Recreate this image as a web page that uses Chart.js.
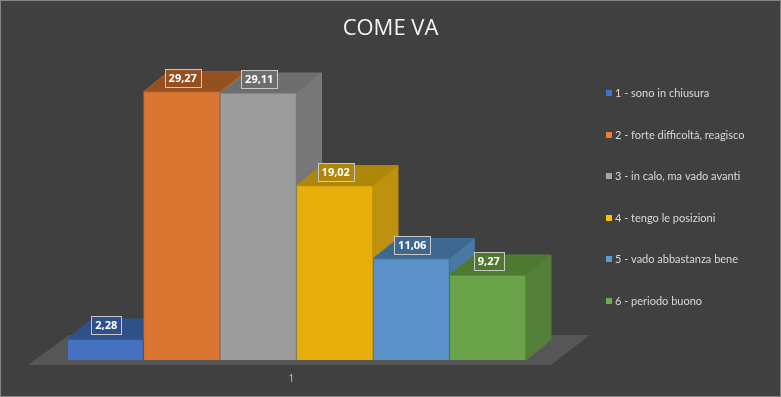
<!DOCTYPE html>
<html>
<head>
<meta charset="utf-8">
<script src="https://cdn.jsdelivr.net/npm/chart.js@4"></script>
<style>
  html, body { margin: 0; padding: 0; background: #404040; }
  canvas { display: block; }
</style>
</head>
<body>
<canvas id="chart" width="781" height="397"></canvas>
<script>
// data
const categories = ["1"];
const seriesNames = [
  "1 - sono in chiusura",
  "2 - forte difficoltà, reagisco",
  "3 - in calo, ma vado avanti",
  "4 - tengo le posizioni",
  "5 - vado abbastanza bene",
  "6 - periodo buono"
];
const seriesValues = [2.28, 29.27, 29.11, 19.02, 11.06, 9.27];
const chartTitle = "COME VA";

// colours (front face, top face, side face, legend swatch)
const frontColors = ["#4471C0", "#DA7632", "#9C9C9C", "#E8AF0C", "#5A91C9", "#6BA34A"];
const topColors = ["#30508A", "#95501F", "#6D6D6D", "#AE8609", "#3F6890", "#4D7A30"];
const sideColors = ["#36599A", "#A85A25", "#777777", "#BE9110", "#4A78A5", "#548039"];
const edgeColors = ["#2F528F", "#AE5A21", "#7B7B7B", "#BC8C00", "#41719C", "#507E32"];
const swatchColors = ["#4472C4", "#ED7D31", "#A5A5A5", "#FFC000", "#5B9BD5", "#70AD47"];

const DX = 25, DY = 20; // depth of the fake 3d

function poly(ctx, pts, fill, stroke) {
  ctx.beginPath();
  ctx.moveTo(pts[0][0], pts[0][1]);
  for (let i = 1; i < pts.length; i++) ctx.lineTo(pts[i][0], pts[i][1]);
  ctx.closePath();
  ctx.fillStyle = fill;
  ctx.fill();
  if (stroke) {
    ctx.strokeStyle = stroke;
    ctx.lineWidth = 1;
    ctx.stroke();
  }
}

const threeD = {
  id: "threeD",
  beforeDraw(chart) {
    const ctx = chart.ctx;
    ctx.save();
    ctx.fillStyle = "#404040";
    ctx.fillRect(0, 0, chart.width, chart.height);
    ctx.restore();
  },
  beforeDatasetsDraw(chart) {
    const ctx = chart.ctx;
    const area = chart.chartArea;
    const base = chart.scales.y.getPixelForValue(0);
    ctx.save();
    // floor
    poly(ctx, [
      [area.left - 39, base + 5],
      [area.right + 25, base + 5],
      [area.right + 64, base - 25],
      [area.left + 2, base - 25]
    ], "#565656");
    // depth faces, left to right
    chart.data.datasets.forEach((ds, i) => {
      const bar = chart.getDatasetMeta(i).data[0];
      const l = bar.x - bar.width / 2, r = bar.x + bar.width / 2;
      const t = bar.y, b = bar.base;
      poly(ctx, [[r, t], [r + DX, t - DY], [r + DX, b - DY], [r, b]], sideColors[i], edgeColors[i]);
      poly(ctx, [[l, t], [l + DX, t - DY], [r + DX, t - DY], [r, t]], topColors[i], edgeColors[i]);
    });
    ctx.restore();
  },
  afterDatasetsDraw(chart) {
    const ctx = chart.ctx;
    ctx.save();
    ctx.font = "bold 11px 'Open Sans'";
    ctx.textAlign = "center";
    ctx.textBaseline = "middle";
    chart.data.datasets.forEach((ds, i) => {
      const bar = chart.getDatasetMeta(i).data[0];
      const txt = ds.data[0].toFixed(2).replace(".", ",");
      const w = ctx.measureText(txt).width + 8;
      const h = 18;
      const cx = bar.x + 1, cy = bar.y - 14;
      ctx.fillStyle = topColors[i];
      ctx.fillRect(Math.round(cx - w / 2) + 0.5, Math.round(cy - h / 2) + 0.5, Math.round(w), h);
      ctx.strokeStyle = "#C8C8C8";
      ctx.lineWidth = 1;
      ctx.strokeRect(Math.round(cx - w / 2) + 0.5, Math.round(cy - h / 2) + 0.5, Math.round(w), h);
      ctx.fillStyle = "#FFFFFF";
      ctx.fillText(txt, cx, cy + 1);
    });
    // category label
    const xs = chart.scales.x;
    ctx.font = "11px 'Open Sans'";
    ctx.fillStyle = "#BFBFBF";
    ctx.fillText(categories[0], xs.getPixelForValue(0) - 5, 379);
    ctx.restore();
  },
  afterDraw(chart) {
    const ctx = chart.ctx;
    ctx.save();
    // title
    ctx.font = "22px 'Open Sans'";
    ctx.fillStyle = "#F2F2F2";
    ctx.textAlign = "center";
    ctx.textBaseline = "alphabetic";
    ctx.fillText(chartTitle, 390.5, 35);
    // legend
    ctx.font = "11px Lato";
    ctx.textAlign = "left";
    ctx.textBaseline = "middle";
    chart.data.datasets.forEach((ds, i) => {
      const y = 93 + i * 41.6;
      ctx.fillStyle = swatchColors[i];
      ctx.fillRect(606, Math.round(y) - 3, 6, 6);
      ctx.fillStyle = "#D9D9D9";
      ctx.fillText(ds.label, 615, y + 0.5);
    });
    // outer border
    ctx.strokeStyle = "#868686";
    ctx.lineWidth = 1;
    ctx.strokeRect(0.5, 0.5, chart.width - 1, chart.height - 1);
    ctx.restore();
  }
};

new Chart(document.getElementById("chart").getContext("2d"), {
  type: "bar",
  data: {
    labels: categories,
    datasets: seriesNames.map((name, i) => ({
      label: name,
      data: [seriesValues[i]],
      backgroundColor: frontColors[i],
      borderColor: edgeColors[i],
      borderWidth: 1,
      categoryPercentage: 1,
      barPercentage: 1
    }))
  },
  options: {
    responsive: false,
    animation: false,
    layout: { padding: { left: 67, right: 255, top: 85, bottom: 37 } },
    scales: {
      x: { display: false },
      y: { display: false, min: 0, max: 30 }
    },
    plugins: {
      legend: { display: false },
      title: { display: false },
      tooltip: { enabled: false }
    }
  },
  plugins: [threeD]
});
</script>
</body>
</html>
